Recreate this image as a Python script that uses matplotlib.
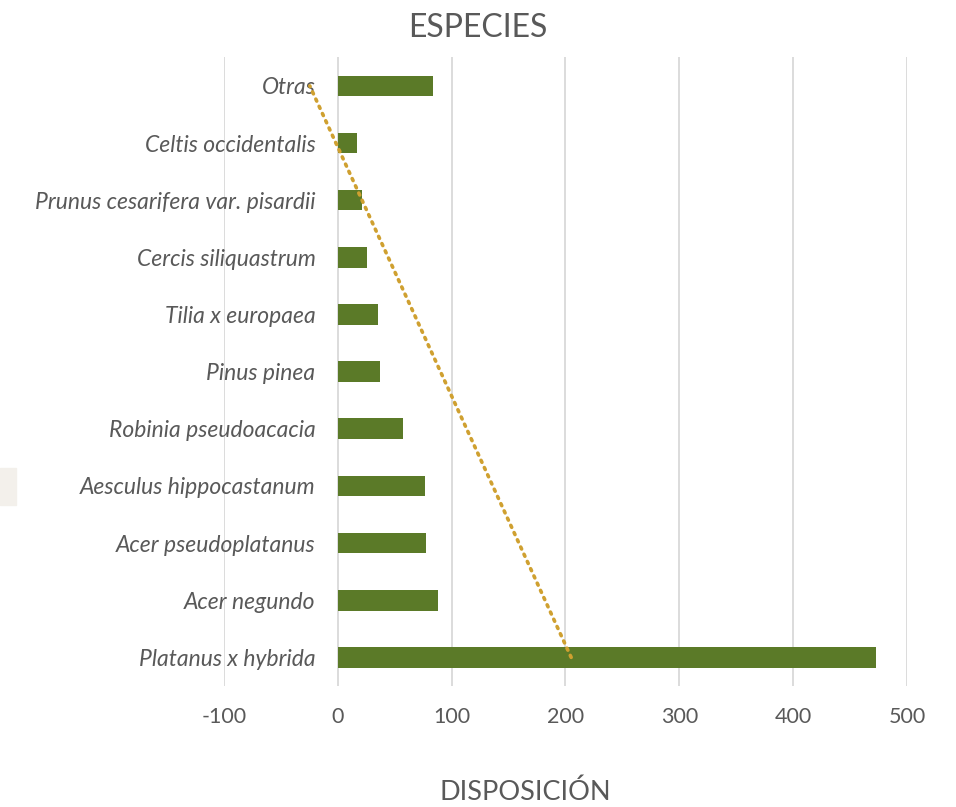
import matplotlib.pyplot as plt
import numpy as np
from matplotlib.patches import Rectangle

plt.rcParams['font.family'] = ['Lato', 'DejaVu Sans']

especies = ["Platanus x hybrida", "Acer negundo", "Acer pseudoplatanus",
            "Aesculus hippocastanum", "Robinia pseudoacacia", "Pinus pinea",
            "Tilia x europaea", "Cercis siliquastrum",
            "Prunus cesarifera var. pisardii", "Celtis occidentalis", "Otras"]
valores = [473, 88, 78, 77, 57, 37, 35, 26, 21, 17, 84]
xticks = [-100, 0, 100, 200, 300, 400, 500]

gris = "#595959"
fig = plt.figure(figsize=(9.56, 8.07), dpi=100)
ax = fig.add_axes([0.234, 0.150, 0.715, 0.779])

# el eje vertical cruza en 0
ax.spines["left"].set_position(("data", 0))
for s in ax.spines.values():
    s.set_visible(False)

y = np.arange(len(especies))
ax.barh(y, valores, height=0.36, color="#5B7A28", zorder=2)

# linea de tendencia lineal
coef = np.polyfit(y, valores, 1)
ax.plot(np.polyval(coef, y), y, linestyle=(0, (0.6, 1.6)), linewidth=2.6,
        color="#CFA030", dash_capstyle="round", zorder=3)

ax.set_xlim(-100, 500)
ax.set_ylim(-0.5, len(especies) - 0.5)
ax.set_xticks(xticks)
ax.set_xticklabels([str(v) for v in xticks], fontsize=15.5, color=gris)
ax.set_yticks(y)
ax.set_yticklabels(especies, fontsize=16.5, color=gris, style="italic")
ax.tick_params(axis="x", length=0, pad=15)
ax.tick_params(axis="y", length=0, pad=16)
ax.grid(axis="x", color="#D9D9D9", linewidth=1.3, zorder=0)

fig.text(0.5, 0.965, "ESPECIES", ha="center", va="center", fontsize=23, color=gris)
fig.text(0.55, 0.018, "DISPOSICIÓN", ha="center", va="center", fontsize=19.5, color=gris)
fig.patches.append(Rectangle((0, 1 - 505 / 807), 16 / 956, 37 / 807,
                             transform=fig.transFigure, color="#F3F0EB"))

fig.savefig("out.png", dpi=100)
